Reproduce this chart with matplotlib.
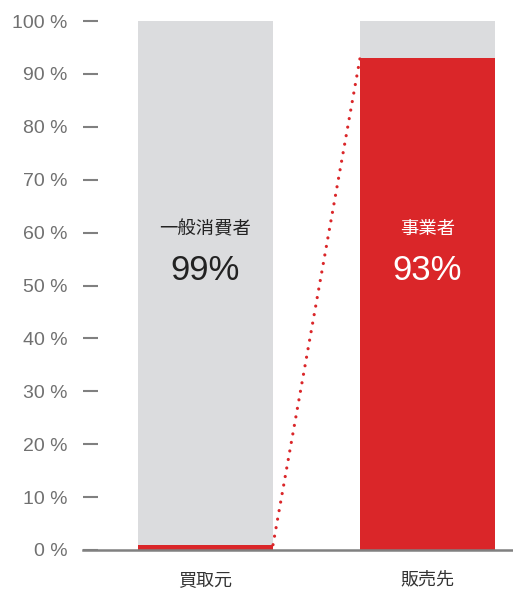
import matplotlib.pyplot as plt
import numpy as np

plt.rcParams['font.family'] = ['Liberation Sans', 'Noto Sans CJK JP', 'DejaVu Sans']

categories = ['買取元', '販売先']
red_values = [1, 93]
inner_labels = ['一般消費者', '事業者']
inner_values = ['99%', '93%']
inner_colors = ['#222222', '#ffffff']
y_ticks = list(range(0, 101, 10))

red = '#da2629'
gray = '#dbdcde'
axis_gray = '#808080'

fig = plt.figure(figsize=(5.13, 5.89), dpi=100)
ax = fig.add_axes([83 / 513, 39 / 589, 430 / 513, 529 / 589])

x = np.arange(len(categories))
width = 0.608
ax.bar(x, [100] * len(x), width=width, color=gray, zorder=1)
ax.bar(x, red_values, width=width, color=red, zorder=2)

# dotted connector from left red top-right to right red top-left
ax.plot([x[0] + width / 2, x[1] - width / 2], [red_values[0], red_values[1]],
        linestyle=(0, (0.01, 2.7)), color=red, linewidth=2.3,
        dash_capstyle='round', zorder=3)

for i in range(len(x)):
    ax.text(x[i], 60.6, inner_labels[i], ha='center', va='center',
            fontsize=13.2, color=inner_colors[i], family=['Noto Sans CJK JP'])
    ax.text(x[i], 52.8, inner_values[i], ha='center', va='center',
            fontsize=25, color=inner_colors[i])

ax.set_xlim(-0.552, 1.385)
ax.set_ylim(0, 100)
ax.set_yticks(y_ticks)
ax.set_yticklabels([f'{v} %' for v in y_ticks])
ax.tick_params(axis='y', direction='in', length=11, width=1.5, color=axis_gray,
               labelcolor='#707070', labelsize=14, pad=11)
ax.set_xticks(x)
ax.set_xticklabels(categories, family=['Noto Sans CJK JP'])
ax.tick_params(axis='x', length=0, labelsize=13, labelcolor='#333333', pad=15)

for side in ['top', 'right', 'left']:
    ax.spines[side].set_visible(False)
ax.spines['bottom'].set_color(axis_gray)
ax.spines['bottom'].set_linewidth(1.8)
ax.spines['bottom'].set_zorder(4)

fig.savefig('out.png', dpi=100)
